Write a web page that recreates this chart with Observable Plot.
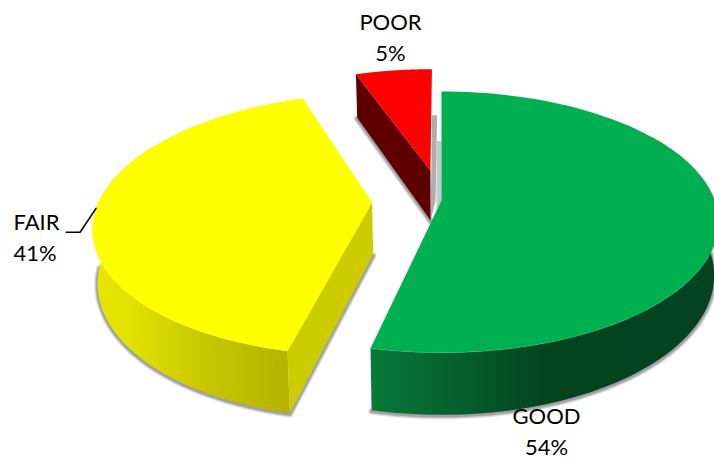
<!DOCTYPE html>
<html>
<head>
<meta charset="utf-8">
<script src="https://cdn.jsdelivr.net/npm/d3@7"></script>
<script src="https://cdn.jsdelivr.net/npm/@observablehq/plot@0.6"></script>
<style>html,body{margin:0;padding:0;background:#fff}svg{display:block}</style>
</head>
<body>
<div id="chart"></div>
<script>
// Data
const categories = ["GOOD", "FAIR", "POOR"];
const shares = [53.5, 41.1, 5.4];
const colors = ["#00b050", "#ffff00", "#ff0000"];

// Pie layout, in page units
const view = {cx: 441, cy: 200, rx: 273, ry: 127, persp: 0.165, depth: 52, shrink: 0.985};
const explode = [0, 0.254, 0.25];

// ground-plane point (u right, v toward viewer), h=0 top plane, h=1 bottom plane
function project(u, v, h = 0) {
  const w = 1 - view.persp * v;
  const x = view.cx + (view.rx * u / w) * (h ? view.shrink : 1);
  const y = view.cy + view.ry * v / w + h * view.depth / w;
  return [x, y];
}
const total = d3.sum(shares);
let acc = 0;
const slices = categories.map((name, i) => {
  const a0 = acc / total * 2 * Math.PI;
  acc += shares[i];
  const a1 = acc / total * 2 * Math.PI;
  const mid = (a0 + a1) / 2;
  return {name, value: shares[i], color: colors[i], a0, a1,
    ou: Math.sin(mid) * explode[i], ov: -Math.cos(mid) * explode[i]};
});
const rim = (s, t, h = 0) => project(s.ou + Math.sin(t), s.ov - Math.cos(t), h);
const hub = (s, h = 0) => project(s.ou, s.ov, h);
function arc(s, t0, t1, h = 0) {
  const n = 90;
  return d3.range(n + 1).map(i => rim(s, t0 + (t1 - t0) * i / n, h));
}
const topFace = s => [hub(s), ...arc(s, s.a0, s.a1)];
const outerWall = (s, t0, t1) => [...arc(s, t0, t1), ...arc(s, t0, t1, 1).reverse()];
const cutFace = (s, t) => [hub(s), rim(s, t), rim(s, t, 1), hub(s, 1)];

const [good, fair, poor] = slices;
const poly = (pts, fill, extra = {}) =>
  Plot.line(pts, {x: d => d[0], y: d => d[1], fill, stroke: "none", curve: "linear", ...extra});

// Soft grey edge under a slice's lower rim
const softEdge = pts => [[7, 0.14], [5, 0.2], [3, 0.28]].map(([strokeWidth, strokeOpacity]) =>
  Plot.line(pts, {x: d => d[0], y: d => d[1], dy: 1, stroke: "#444", strokeWidth, strokeOpacity, curve: "linear"}));

// Gradient definitions
function defs() {
  const d = d3.create("svg:defs");
  const grad = (id, x1, x2, stops) => {
    const g = d.append("linearGradient").attr("id", id).attr("gradientUnits", "userSpaceOnUse")
      .attr("x1", x1).attr("x2", x2).attr("y1", 0).attr("y2", 0);
    stops.forEach(([o, c]) => g.append("stop").attr("offset", o).attr("stop-color", c));
  };
  grad("wallGood", 371, 714, [[0, "#087a3a"], [0.5, "#03441f"], [1, "#03431f"]]);
  grad("wallFair", 95, 295, [[0, "#e6e600"], [0.16, "#e2e200"], [0.45, "#cfcf00"], [0.55, "#c8c600"], [1, "#b5b000"]]);
  return d.node();
}

// Leader from the FAIR rim
const leaderTip = rim(fair, 4.667);
const leader = [[leaderTip[0] - 30, leaderTip[1] + 24], [leaderTip[0] - 16, leaderTip[1] + 24], leaderTip];

// Label placement: offsets from the frame's top-left
const labelAt = {GOOD: [546, 416, "middle"], FAIR: [13, 222, "start"], POOR: [390, 22, "middle"]};
const lineGap = 31;
const labelMarks = slices.flatMap(s => {
  const [dx, dy, textAnchor] = labelAt[s.name];
  const common = {frameAnchor: "top-left", dx, textAnchor, lineAnchor: "middle", fill: "#000",
    fontFamily: "Lato, 'Open Sans', sans-serif", fontSize: 22};
  return [
    Plot.text([s.name], {...common, dy, text: d => d}),
    Plot.text([s.value], {...common, dy: dy + lineGap, text: d => `${Math.round(d)}%`})
  ];
});

const bandA = [rim(poor, 2 * Math.PI, 1), hub(poor, 1)];
const bandB = [project(0, -1, 1), hub(good, 1)];

const chart = Plot.plot({
  width: 714, height: 460,
  marginTop: 0, marginRight: 0, marginBottom: 0, marginLeft: 0,
  style: {background: "#fff"},
  x: {domain: [0, 714], range: [0, 714], axis: null},
  y: {domain: [0, 460], range: [0, 460], axis: null},
  marks: [
    defs,
    // grey bands cast in the gap behind the red and green slices
    poly([[bandA[0][0], bandA[0][1] + 3], bandA[1], [bandA[1][0] + 5, bandA[1][1] - 20], [bandA[0][0] + 5, bandA[0][1] + 3]], "#aeaeae"),
    poly([[view.cx - 5, bandB[0][1] + 5], [view.cx, bandB[0][1] + 5], bandB[1], [view.cx - 5, bandB[1][1] - 20]], "#c8c8c8"),
    // POOR
    ...softEdge([rim(poor, poor.a0, 1), hub(poor, 1)]),
    poly(cutFace(poor, poor.a0), "#5e0000"),
    poly(topFace(poor), poor.color),
    // FAIR
    ...softEdge([hub(fair, 1), ...arc(fair, fair.a0, 4.62, 1)]),
    poly(cutFace(fair, fair.a0), "#cccc00"),
    poly(outerWall(fair, fair.a0, 5.2), "url(#wallFair)"),
    poly(topFace(fair), fair.color),
    // GOOD
    ...softEdge(arc(good, 1.05, good.a1, 1)),
    poly(outerWall(good, 1.0, good.a1), "url(#wallGood)"),
    poly(topFace(good), good.color),
    poly(arc(good, 1.2, good.a1), "none", {stroke: "#25c06e", strokeWidth: 1, strokeOpacity: 0.6}),
    // labels
    Plot.line(leader, {x: d => d[0], y: d => d[1], stroke: "#000", strokeWidth: 1.5, curve: "linear"}),
    ...labelMarks
  ]
});
document.getElementById("chart").append(chart);
</script>
</body>
</html>
